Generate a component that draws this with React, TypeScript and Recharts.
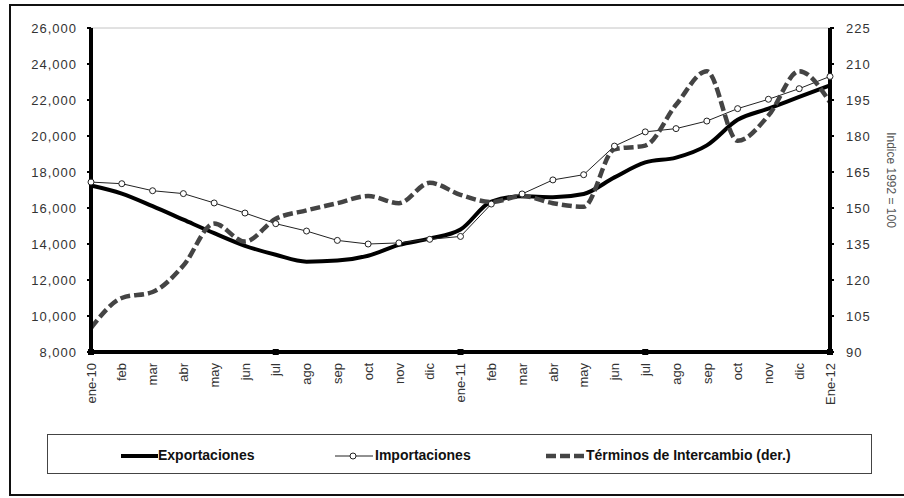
import React from 'react';
import { LineChart, Line, XAxis, YAxis, ReferenceLine } from 'recharts';

const MONTHS = [
  'ene-10', 'feb', 'mar', 'abr', 'may', 'jun', 'jul', 'ago', 'sep', 'oct', 'nov', 'dic',
  'ene-11', 'feb', 'mar', 'abr', 'may', 'jun', 'jul', 'ago', 'sep', 'oct', 'nov', 'dic',
  'Ene-12',
];

const EXPORTACIONES = [
  17250, 16800, 16100, 15350, 14600, 13900, 13400, 13020, 13080, 13350, 13950, 14300,
  14800, 16350, 16650, 16600, 16780, 17700, 18530, 18800, 19480, 20900, 21520, 22170,
  22810,
];

const IMPORTACIONES = [
  17440, 17350, 16960, 16800, 16280, 15720, 15130, 14720, 14200, 14000, 14060, 14260,
  14420, 16220, 16780, 17560, 17850, 19440, 20230, 20410, 20830, 21520, 22040, 22630,
  23310,
];

const TERMINOS = [
  100, 112.5, 115, 126, 143.5, 136, 145.5, 149, 152, 155, 152, 160.5,
  155.5, 152.5, 155, 152, 150.5, 174.5, 176, 193, 207, 178, 188.5, 207,
  194,
];

const LEFT_TICKS = [8000, 10000, 12000, 14000, 16000, 18000, 20000, 22000, 24000, 26000];
const RIGHT_TICKS = [90, 105, 120, 135, 150, 165, 180, 195, 210, 225];

const FONT = '"Liberation Sans", Arial, sans-serif';

const data = MONTHS.map((mes, i) => ({
  mes,
  exp: EXPORTACIONES[i],
  imp: IMPORTACIONES[i],
  ti: TERMINOS[i],
}));

const fmt = (v: number) => v.toLocaleString('en-US');

// month labels rotated, with a small square mark every six months
const MonthTick = ({ x, y, payload, index }: any) => (
  <g>
    {index % 6 === 0 && <rect x={x - 3} y={y - 3} width={6} height={6} fill="#000" />}
    <text
      transform={`translate(${x},${y + 11}) rotate(-90)`}
      textAnchor="end"
      dy="0.36em"
      fontSize={13}
      fontFamily={FONT}
      fill="#333"
    >
      {payload.value}
    </text>
  </g>
);

const legendText: React.CSSProperties = {
  position: 'absolute',
  top: 0,
  lineHeight: '40px',
  fontFamily: FONT,
  fontWeight: 'bold',
  fontSize: 14,
  color: '#111',
  whiteSpace: 'nowrap',
};

const ChartLegend = () => (
  <div
    style={{
      position: 'absolute',
      left: 47,
      top: 434,
      width: 825,
      height: 40,
      boxSizing: 'border-box',
      border: '1px solid #444',
      background: '#fff',
    }}
  >
    <svg style={{ position: 'absolute', left: 0, top: 0 }} width={825} height={40}>
      <line x1={73} x2={110} y1={21} y2={21} stroke="#000" strokeWidth={4} />
      <line x1={287} x2={325} y1={21} y2={21} stroke="#222" strokeWidth={1} />
      <circle cx={305} cy={21} r={3} fill="#fff" stroke="#222" strokeWidth={1} />
      <line x1={498} x2={536} y1={21} y2={21} stroke="#444" strokeWidth={4.5} strokeDasharray="10 4" />
    </svg>
    <span style={{ ...legendText, left: 110 }}>Exportaciones</span>
    <span style={{ ...legendText, left: 327 }}>Importaciones</span>
    <span style={{ ...legendText, left: 538 }}>Términos de Intercambio (der.)</span>
  </div>
);

export default function App() {
  return (
    <div
      style={{
        position: 'fixed',
        left: 0,
        top: 0,
        width: 904,
        height: 498,
        overflow: 'hidden',
        background: '#fff',
      }}
    >
      <div
        style={{
          position: 'absolute',
          left: 9,
          top: 4,
          width: 930,
          height: 492,
          boxSizing: 'border-box',
          border: '2px solid #111',
        }}
      />
      <div style={{ position: 'absolute', left: 0, top: 0 }}>
        <LineChart
          width={904}
          height={498}
          data={data}
          margin={{ top: 28, right: 34, left: 31, bottom: 86 }}
        >
          <XAxis
            dataKey="mes"
            interval={0}
            tickLine={false}
            tickSize={0}
            tickMargin={0}
            height={60}
            axisLine={{ stroke: '#000', strokeWidth: 4 }}
            tick={<MonthTick />}
          />
          <YAxis
            yAxisId="left"
            domain={[8000, 26000]}
            ticks={LEFT_TICKS}
            tickFormatter={fmt}
            width={60}
            tickSize={4}
            tickMargin={10}
            axisLine={{ stroke: '#000', strokeWidth: 4 }}
            tickLine={{ stroke: '#000', strokeWidth: 2 }}
            tick={{ fill: '#333', fontSize: 13, fontFamily: FONT, letterSpacing: 1 }}
          />
          <YAxis
            yAxisId="right"
            orientation="right"
            domain={[90, 225]}
            ticks={RIGHT_TICKS}
            width={40}
            tickSize={4}
            tickMargin={12}
            axisLine={{ stroke: '#000', strokeWidth: 4 }}
            tickLine={{ stroke: '#000', strokeWidth: 2 }}
            tick={{ fill: '#333', fontSize: 13, fontFamily: FONT, letterSpacing: 1 }}
          />
          <ReferenceLine yAxisId="left" y={26000} stroke="#c4c4c4" strokeWidth={1} />
          <Line
            yAxisId="left"
            type="monotone"
            dataKey="exp"
            name="Exportaciones"
            stroke="#000"
            strokeWidth={4}
            dot={false}
            isAnimationActive={false}
          />
          <Line
            yAxisId="left"
            type="linear"
            dataKey="imp"
            name="Importaciones"
            stroke="#222"
            strokeWidth={1}
            dot={{ r: 3, fill: '#fff', stroke: '#222', strokeWidth: 1 }}
            isAnimationActive={false}
          />
          <Line
            yAxisId="right"
            type="monotone"
            dataKey="ti"
            name="Términos de Intercambio (der.)"
            stroke="#444"
            strokeWidth={4.5}
            strokeDasharray="10 4"
            dot={false}
            isAnimationActive={false}
          />
        </LineChart>
      </div>
      <svg style={{ position: 'absolute', left: 0, top: 0, pointerEvents: 'none' }} width={904} height={498}>
        <text
          x={887}
          y={180}
          transform="rotate(90, 887, 180)"
          textAnchor="middle"
          fontSize={12}
          fontFamily={FONT}
          fill="#555"
        >
          Indice 1992 = 100
        </text>
      </svg>
      <ChartLegend />
    </div>
  );
}
